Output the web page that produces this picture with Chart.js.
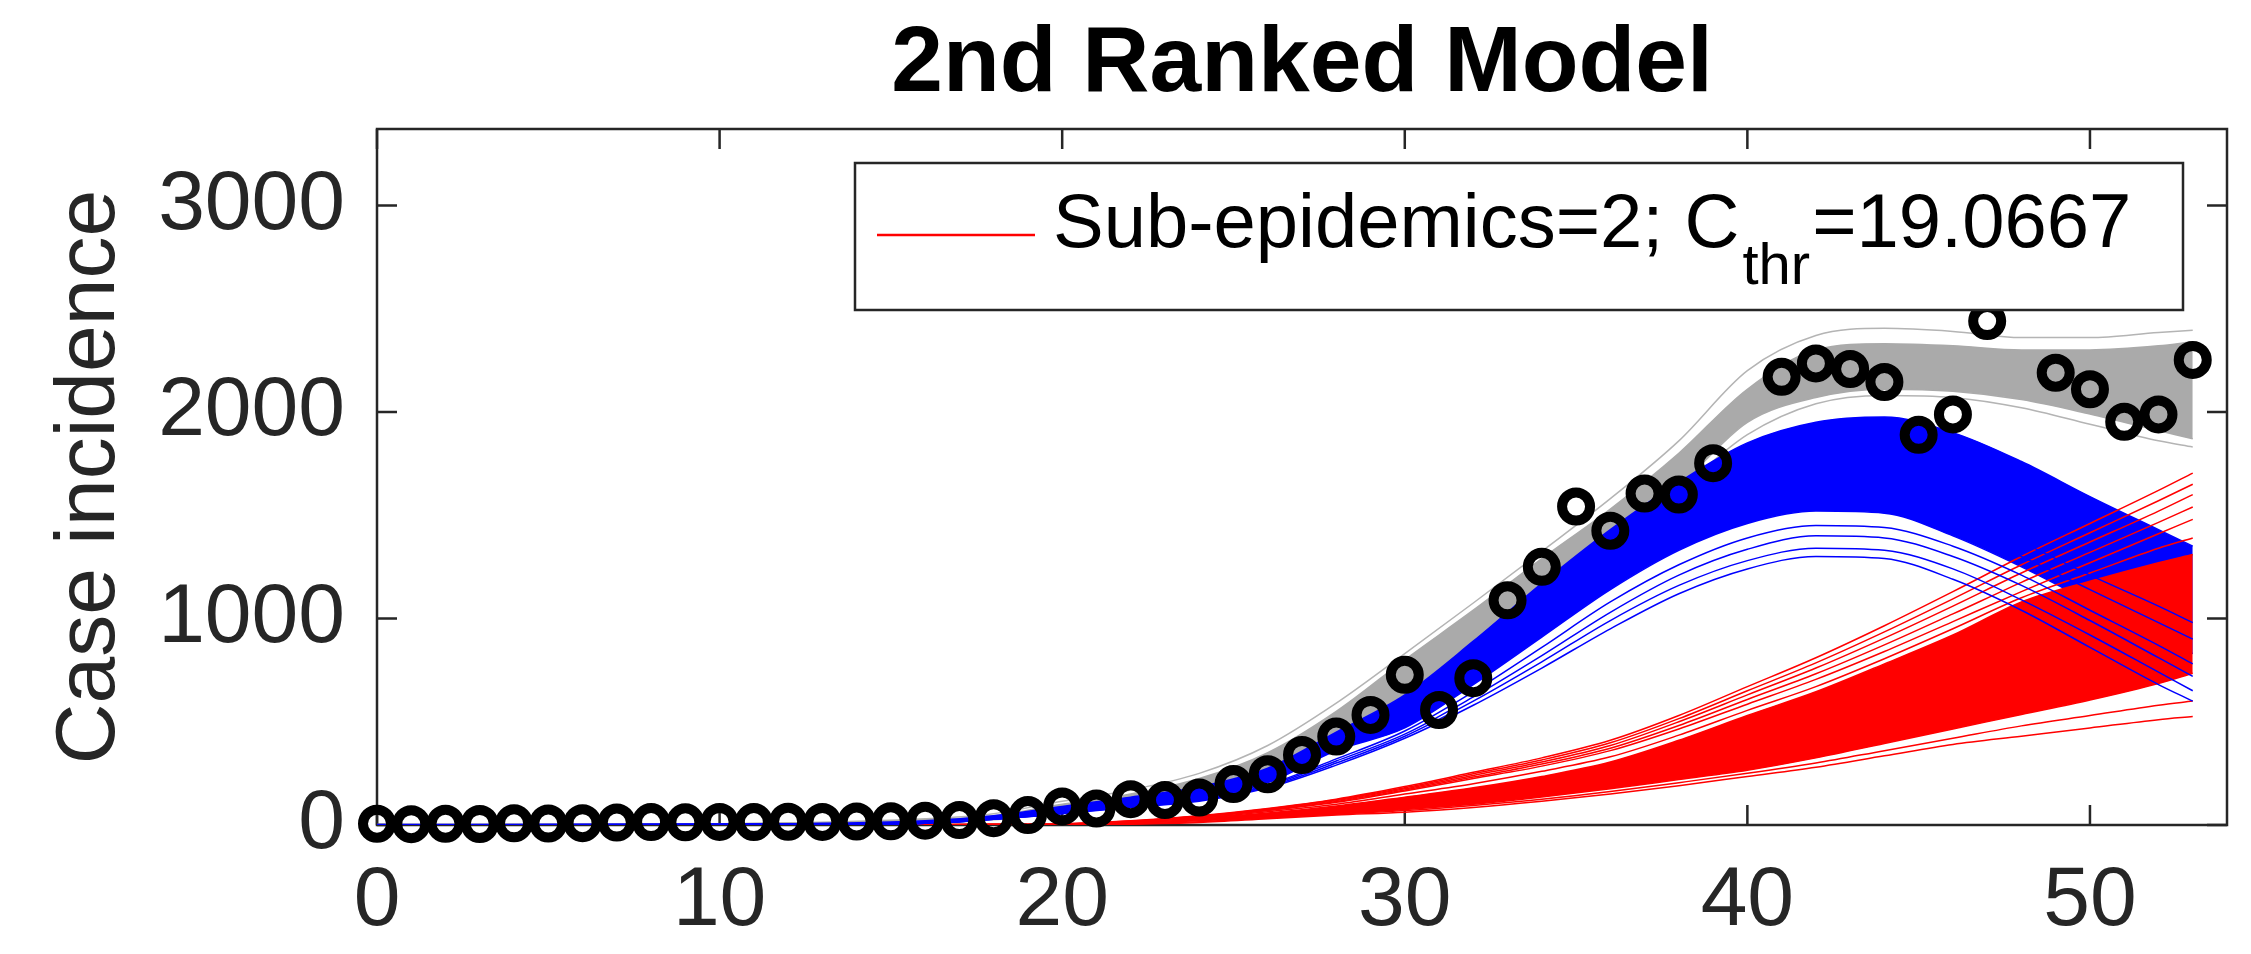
<!DOCTYPE html>
<html>
<head>
<meta charset="utf-8">
<title>2nd Ranked Model</title>
<script src="https://cdn.jsdelivr.net/npm/chart.js@4.4.1/dist/chart.umd.min.js"></script>
<style>
  html, body { margin: 0; padding: 0; background: #fff; }
  #wrap { width: 2251px; height: 954px; position: relative; }
</style>
</head>
<body>
<div id="wrap"><canvas id="fit-chart"></canvas></div>
<script>
// observed weekly case incidence (weeks 40 and 48 sit under the legend box)
const weeks = [0, 1, 2, 3, 4, 5, 6, 7, 8, 9, 10, 11, 12, 13, 14, 15, 16, 17, 18, 19, 20,
  21, 22, 23, 24, 25, 26, 27, 28, 29, 30, 31, 32, 33, 34, 35, 36, 37, 38, 39, 40,
  41, 42, 43, 44, 45, 46, 47, 48, 49, 50, 51, 52, 53];
const observed = [6, 4, 6, 5, 8, 7, 9, 12, 14, 13, 15, 14, 16, 15, 17, 18, 21, 24, 33, 48, 90,
  80, 125, 121, 133, 198, 246, 339, 428, 533, 727, 557, 711, 1088, 1250, 1542, 1425, 1605, 1600, 1752, null,
  2170, 2235, 2208, 2145, 1889, 1988, 2440, null, 2190, 2110, 1952, 1988, 2252];

// model curves, read at these weeks
const curveWeeks = [0, 10, 16, 18, 20, 22, 24, 26, 28, 30, 32, 34, 36, 38, 40, 42, 44, 46, 48, 50, 52, 53];

// total fit (gray ensemble)
const grayOuterTop = [2, 6, 30, 55, 115, 170, 250, 385, 590, 830, 1075, 1325, 1580, 1860, 2200, 2370, 2405, 2390, 2360, 2360, 2385, 2395];
const grayTop = [1, 5, 25, 45, 100, 150, 225, 350, 550, 800, 1040, 1290, 1530, 1800, 2110, 2300, 2330, 2320, 2300, 2300, 2320, 2340];
const grayBottom = [0, 3, 10, 30, 70, 110, 160, 240, 400, 560, 800, 1080, 1380, 1640, 1950, 2070, 2110, 2100, 2060, 1990, 1910, 1870];
const grayOuterBottom = [0, 2, 8, 25, 60, 100, 150, 230, 380, 540, 780, 1050, 1350, 1620, 1890, 2040, 2080, 2070, 2020, 1940, 1860, 1830];

// first sub-epidemic (blue ensemble)
const blueTop = [2, 4, 20, 45, 90, 135, 185, 275, 450, 630, 890, 1170, 1430, 1660, 1850, 1950, 1975, 1900, 1760, 1590, 1430, 1350];
const blueBottom = [0, 2, 8, 30, 60, 95, 125, 205, 360, 470, 680, 910, 1140, 1330, 1460, 1520, 1510, 1400, 1250, 1080, 900, 830];
const blueMidA = [0, 2, 8, 30, 60, 95, 127, 210, 370, 490, 700, 935, 1170, 1370, 1505, 1570, 1560, 1450, 1300, 1140, 980, 900];
const blueMidB = [0, 2, 9, 31, 62, 97, 130, 215, 380, 505, 720, 960, 1200, 1410, 1550, 1620, 1620, 1520, 1370, 1210, 1060, 980];
const blueLow1 = [0, 2, 8, 28, 55, 85, 115, 180, 290, 420, 580, 760, 950, 1120, 1240, 1300, 1290, 1190, 1040, 860, 680, 600];
const blueLow2 = [0, 2, 8, 28, 56, 88, 118, 185, 300, 430, 600, 790, 990, 1160, 1280, 1340, 1330, 1240, 1090, 920, 740, 650];
const blueLow3 = [0, 2, 8, 29, 57, 90, 120, 190, 310, 440, 620, 820, 1030, 1210, 1335, 1400, 1390, 1300, 1160, 990, 810, 720];
const blueLow4 = [0, 2, 8, 29, 58, 92, 122, 195, 320, 455, 645, 860, 1080, 1260, 1390, 1450, 1440, 1350, 1210, 1040, 870, 780];

// second sub-epidemic (red ensemble)
const redTop1 = [0, 0, 1, 2, 5, 20, 45, 80, 125, 186, 255, 325, 410, 530, 670, 810, 965, 1130, 1300, 1460, 1620, 1704];
const redTopA = [0, 0, 1, 2, 5, 19, 44, 78, 122, 180, 248, 315, 398, 515, 650, 785, 935, 1095, 1260, 1415, 1570, 1650];
const redTop2 = [0, 0, 1, 2, 4, 18, 42, 75, 118, 175, 240, 305, 385, 500, 630, 760, 905, 1060, 1220, 1370, 1520, 1600];
const redTopB = [0, 0, 1, 2, 4, 17, 40, 72, 114, 170, 232, 295, 372, 482, 608, 732, 872, 1022, 1175, 1320, 1465, 1540];
const redTop3 = [0, 0, 1, 2, 4, 16, 38, 70, 110, 165, 225, 285, 360, 465, 585, 705, 840, 985, 1130, 1270, 1410, 1480];
const redMid = [0, 0, 1, 2, 4, 15, 35, 64, 100, 150, 200, 260, 330, 435, 555, 670, 805, 950, 1100, 1220, 1340, 1390];
const redFillTop = [0, 0, 1, 2, 4, 14, 33, 58, 92, 135, 180, 235, 305, 410, 530, 645, 780, 920, 1080, 1180, 1270, 1310];
const redFillBottom = [0, 0, 0, 1, 2, 8, 20, 36, 55, 75, 100, 135, 175, 220, 265, 325, 395, 465, 535, 605, 685, 735];
const redLow1 = [0, 0, 0, 0, 1, 4, 12, 30, 48, 62, 85, 115, 150, 190, 235, 280, 335, 390, 430, 470, 510, 525];
const redLow2 = [0, 0, 0, 1, 1, 6, 16, 34, 52, 70, 95, 125, 162, 205, 250, 300, 360, 420, 480, 530, 580, 600];

const xTicks = [0, 10, 20, 30, 40, 50];
const yTicks = [0, 1000, 2000, 3000];
const legendLabel = ["Sub-epidemics=2; C", "thr", "=19.0667"];

const FONT = "'Liberation Sans', Arial, Helvetica, sans-serif";
const AXIS_COLOR = "#262626";
const GRAY = "#aaaaaa";
const BLUE = "#0000ff";
const RED = "#ff0000";

function toPoints(xs, ys) {
  return xs.map((x, i) => ({ x: x, y: ys[i] }));
}

const datasets = [];

function addCurve(values, color, width, order, fillTo, fillColor) {
  datasets.push({
    data: toPoints(curveWeeks, values),
    borderColor: color,
    borderWidth: width,
    pointRadius: 0,
    cubicInterpolationMode: "monotone",
    order: order,
    fill: fillTo == null ? false : { target: fillTo },
    backgroundColor: fillColor || "transparent",
  });
  return datasets.length - 1;
}

// data circles on top
datasets.push({
  data: toPoints(weeks, observed),
  showLine: false,
  pointRadius: 14,
  pointBorderWidth: 10,
  pointBorderColor: "#000",
  pointBackgroundColor: "rgba(0,0,0,0)",
  clip: false,
  order: 0,
});

// blue lines that cross over the red fan
addCurve(blueLow1, BLUE, 1.5, 1);
addCurve(blueLow2, BLUE, 1.5, 1);
addCurve(blueLow3, BLUE, 1.5, 1);
addCurve(blueLow4, BLUE, 1.5, 1);
addCurve(blueMidA, BLUE, 1.5, 1);
addCurve(blueMidB, BLUE, 1.5, 1);

// red
const rb = addCurve(redFillBottom, RED, 1.5, 2);
addCurve(redFillTop, RED, 1.5, 2, rb, RED);
addCurve(redTop1, RED, 1.5, 2);
addCurve(redTopA, RED, 1.5, 2);
addCurve(redTop2, RED, 1.5, 2);
addCurve(redTopB, RED, 1.5, 2);
addCurve(redTop3, RED, 1.5, 2);
addCurve(redMid, RED, 1.5, 2);
addCurve(redLow1, RED, 1.5, 2);
addCurve(redLow2, RED, 1.5, 2);

// blue main band
const bb = addCurve(blueBottom, BLUE, 1.5, 3);
addCurve(blueTop, BLUE, 1.5, 3, bb, BLUE);

// gray
const gb = addCurve(grayBottom, GRAY, 1.5, 4);
addCurve(grayTop, GRAY, 1.5, 4, gb, GRAY);
addCurve(grayOuterTop, "#b4b4b4", 1.5, 4);
addCurve(grayOuterBottom, "#b4b4b4", 1.5, 4);

// box round the axes and inward tick marks on all four sides
const axesFrame = {
  id: "axesFrame",
  beforeDatasetsDraw(chart) {
    const { ctx, chartArea: a, scales } = chart;
    const len = 20;
    ctx.save();
    ctx.strokeStyle = AXIS_COLOR;
    ctx.lineWidth = 2.5;
    ctx.strokeRect(a.left, a.top, a.right - a.left, a.bottom - a.top);
    ctx.beginPath();
    xTicks.forEach((v) => {
      const px = scales.x.getPixelForValue(v);
      ctx.moveTo(px, a.bottom);
      ctx.lineTo(px, a.bottom - len);
      ctx.moveTo(px, a.top);
      ctx.lineTo(px, a.top + len);
    });
    yTicks.forEach((v) => {
      const py = scales.y.getPixelForValue(v);
      ctx.moveTo(a.left, py);
      ctx.lineTo(a.left + len, py);
      ctx.moveTo(a.right, py);
      ctx.lineTo(a.right - len, py);
    });
    ctx.stroke();
    ctx.restore();
  },
};

// MATLAB style legend box with a subscript
const subLegend = {
  id: "subLegend",
  afterDraw(chart) {
    const { ctx, chartArea: a } = chart;
    const right = a.right - 44;
    const top = a.top + 34;
    const left = right - 1328;
    const h = 147;
    ctx.save();
    ctx.fillStyle = "#fff";
    ctx.fillRect(left, top, right - left, h);
    ctx.strokeStyle = AXIS_COLOR;
    ctx.lineWidth = 2.5;
    ctx.strokeRect(left, top, right - left, h);

    ctx.strokeStyle = RED;
    ctx.lineWidth = 2.5;
    ctx.beginPath();
    ctx.moveTo(left + 22, top + 72);
    ctx.lineTo(left + 180, top + 72);
    ctx.stroke();

    const base = top + 84;
    let x = left + 198;
    ctx.fillStyle = "#000";
    ctx.textBaseline = "alphabetic";
    ctx.textAlign = "left";
    ctx.font = "76px " + FONT;
    ctx.fillText(legendLabel[0], x, base);
    x += ctx.measureText(legendLabel[0]).width + 3;
    ctx.font = "58px " + FONT;
    ctx.fillText(legendLabel[1], x, base + 37);
    x += ctx.measureText(legendLabel[1]).width + 2;
    ctx.font = "76px " + FONT;
    ctx.fillText(legendLabel[2], x, base);
    ctx.restore();
  },
};

new Chart(document.getElementById("fit-chart"), {
  type: "line",
  data: { datasets: datasets },
  options: {
    responsive: true,
    maintainAspectRatio: false,
    animation: false,
    devicePixelRatio: 1,
    layout: { padding: { left: 0, right: 4, top: 0, bottom: 0 } },
    plugins: {
      legend: { display: false },
      tooltip: { enabled: false },
      title: {
        display: true,
        text: "2nd Ranked Model",
        fullSize: false,
        color: "#000",
        font: { family: FONT, size: 93, weight: "bold", lineHeight: 1 },
        padding: { top: 19, bottom: 17 },
      },
    },
    scales: {
      x: {
        type: "linear",
        min: 0,
        max: 54,
        grid: { display: false, drawTicks: false, tickLength: 0 },
        border: { display: false },
        afterFit: (s) => { s.height = 129; },
        afterBuildTicks: (s) => { s.ticks = xTicks.map((v) => ({ value: v })); },
        ticks: {
          color: AXIS_COLOR,
          padding: 35,
          maxRotation: 0,
          autoSkip: false,
          font: { family: FONT, size: 84, lineHeight: 1 },
          callback: (v) => String(v),
        },
      },
      y: {
        type: "linear",
        min: 0,
        max: 3370,
        grid: { display: false, drawTicks: false, tickLength: 0 },
        border: { display: false },
        afterFit: (s) => { s.width = 377; },
        afterBuildTicks: (s) => { s.ticks = yTicks.map((v) => ({ value: v })); },
        ticks: {
          color: AXIS_COLOR,
          padding: 32,
          autoSkip: false,
          font: { family: FONT, size: 84, lineHeight: 1 },
          callback: (v) => String(v),
        },
        title: {
          display: true,
          text: "Case incidence",
          color: AXIS_COLOR,
          font: { family: FONT, size: 84, lineHeight: 1 },
          padding: { top: 49, bottom: 0 },
        },
      },
    },
  },
  plugins: [axesFrame, subLegend],
});
</script>
</body>
</html>
